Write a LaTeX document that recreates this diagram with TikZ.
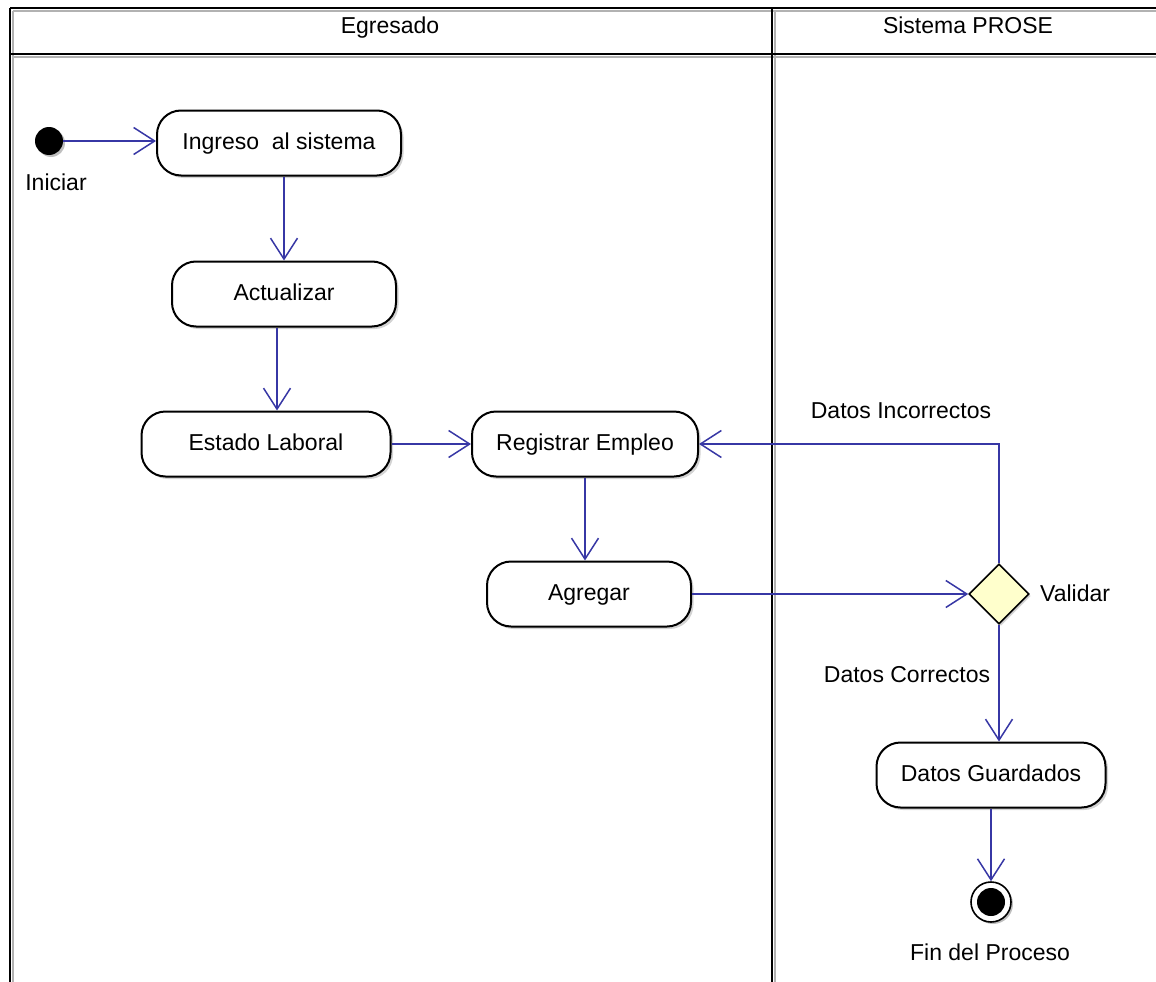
\documentclass[tikz,border=0pt]{standalone}
\usepackage{fontspec}
\setmainfont{Liberation Sans}
\usetikzlibrary{arrows.meta,shapes.geometric,shadows}
\definecolor{flowblue}{RGB}{55,55,165}
\definecolor{decfill}{RGB}{255,255,204}
\tikzset{
  lbl/.style={font=\fontsize{23}{26}\selectfont, inner sep=0pt, text height=17pt, text depth=5pt},
  act/.style={draw=black, line width=2pt, fill=white, rounded corners=24pt,
    minimum height=65pt, inner sep=0pt, font=\fontsize{23}{26}\selectfont,
    text height=17pt, text depth=5pt,
    drop shadow={shadow xshift=2.5pt, shadow yshift=-2.5pt, opacity=0.35, fill=gray}},
  flow/.style={draw=flowblue, line width=1.8pt,
    -{Straight Barb[length=21pt, width=27pt, line width=1.5pt]}},
  frame/.style={draw=black, line width=2.4pt},
  frameshadow/.style={draw=gray!60, line width=2pt},
}
\begin{document}
\begin{tikzpicture}[x=1pt, y=-1pt]
\useasboundingbox (0,0) rectangle (1156,982);
% swimlane frame
\draw[frameshadow] (13,11) -- (1156,11);
\draw[frameshadow] (13,57) -- (1156,57);
\draw[frameshadow] (13,11) -- (13,982);
\draw[frameshadow] (775,11) -- (775,982);
\draw[frame] (10,8) -- (1156,8);
\draw[frame] (10,54) -- (1156,54);
\draw[frame] (10,8) -- (10,982);
\draw[frame] (772,8) -- (772,982);
\node[lbl] (laneA) at (390,28) {Egresado};
\node[lbl] (laneB) at (968,28) {Sistema PROSE};

% start
\fill[gray!50] (51,143) circle (14);
\node[circle, fill=black, minimum size=28pt, inner sep=0pt] (start) at (49,141) {};
\node[lbl] (startlbl) at (56,184) {Iniciar};

% actions
\node[act, minimum width=244pt] (ing) at (279,143) {Ingreso\ \ al sistema};
\node[act, minimum width=224pt] (actz) at (284,294) {Actualizar};
\node[act, minimum width=249pt] (est) at (266,444) {Estado Laboral};
\node[act, minimum width=226pt] (reg) at (585,444) {Registrar Empleo};
\node[act, minimum width=204pt] (agr) at (589,594) {Agregar};
\node[act, minimum width=229pt] (dg) at (991,775) {Datos Guardados};

% decision
\node[diamond, draw=black, line width=1.6pt, fill=decfill, minimum width=60pt,
  minimum height=60pt, inner sep=0pt,
  drop shadow={shadow xshift=2pt, shadow yshift=-2pt, opacity=0.35, fill=gray}] (dia) at (999,594) {};
\node[lbl, anchor=west] (valid) at (1040,595) {Validar};

% end
\fill[gray!50] (993,904) circle (20);
\node[circle, draw=black, line width=1.6pt, fill=white, minimum size=40pt, inner sep=0pt] (fin) at (991,902) {};
\fill[black] (fin.center) circle (14);
\node[lbl] (finlbl) at (990,954) {Fin del Proceso};

% guard labels
\node[lbl] (inc) at (901,412) {Datos Incorrectos};
\node[lbl] (cor) at (907,676) {Datos Correctos};

% flows
\draw[flow] (start) -- (start -| ing.west);
\draw[flow] (actz.north |- ing.south) -- (actz.north);
\coordinate (a2) at ([xshift=-7pt]actz.south);
\draw[flow] (a2) -- (a2 |- est.north);
\draw[flow] (est.east) -- (reg.west);
\draw[flow] (reg.south) -- (reg.south |- agr.north);
\draw[flow] (agr.east) -- (dia.west);
\draw[flow] (dia.north) |- (reg.east);
\draw[flow] (dia.south) -- (dia.south |- dg.north);
\draw[flow] (dg.south) -- (fin.north);
\end{tikzpicture}
\end{document}
